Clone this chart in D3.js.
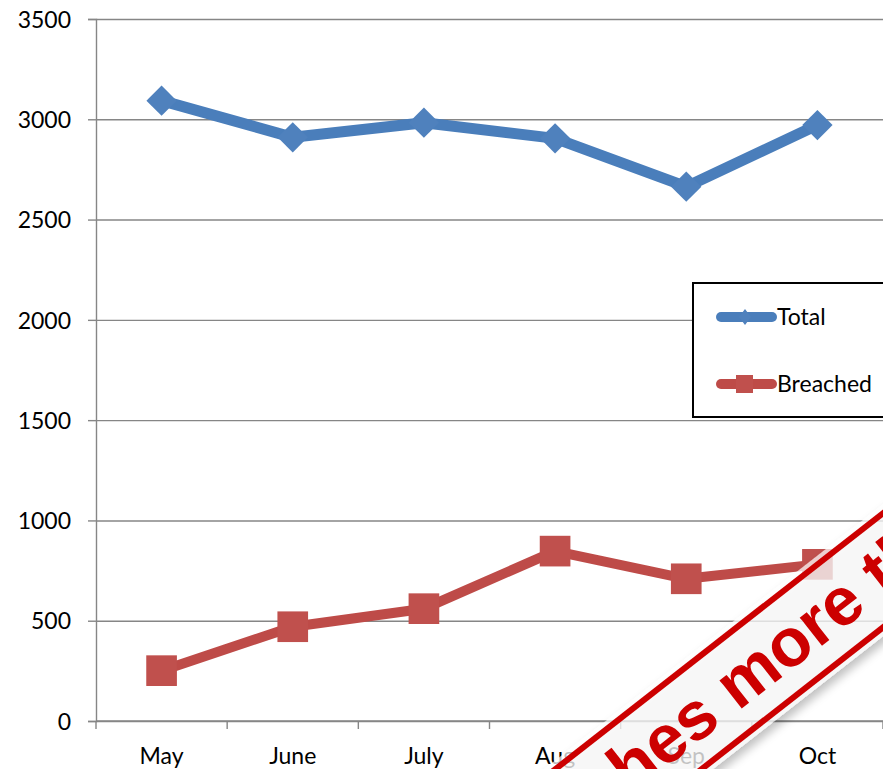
<!DOCTYPE html>
<html>
<head>
<meta charset="utf-8">
<script src="https://cdn.jsdelivr.net/npm/d3@7/dist/d3.min.js"></script>
<style>
  html, body { margin: 0; padding: 0; background: #ffffff; }
  svg { display: block; }
  text { font-family: Lato, "Open Sans", sans-serif; }
</style>
</head>
<body>
<svg id="chart" width="883" height="769"></svg>
<script>
// Monthly counts
const months = ["May", "June", "July", "Aug", "Sep", "Oct"];
const totalValues = [3093, 2910, 2983, 2905, 2664, 2971];
const breachedValues = [251, 470, 560, 847, 709, 781];
const yTicks = [0, 500, 1000, 1500, 2000, 2500, 3000, 3500];
const seriesNames = ["Total", "Breached"];
const stampText = "Breaches more than tripled";

const W = 883, H = 769;
const margin = { left: 96, right: 0, top: 19, bottom: 48 };
const plotW = W - margin.left - margin.right;
const plotH = H - margin.top - margin.bottom;

const svg = d3.select("#chart");
const defs = svg.append("defs");

const x = d3.scaleBand().domain(months).range([margin.left, margin.left + plotW]);
const y = d3.scaleLinear().domain([0, 3500]).range([margin.top + plotH, margin.top]);

const gridColor = "#868686";
const blue = "#4a7ebb", blueMark = "#4f81bd";
const red = "#be4b48", redMark = "#c0504d";

// Horizontal gridlines
const gGrid = svg.append("g")
  .attr("transform", `translate(${margin.left},0)`)
  .call(d3.axisLeft(y).tickValues(yTicks).tickSize(-plotW).tickFormat(""));
gGrid.select(".domain").remove();
gGrid.selectAll(".tick line").attr("stroke", gridColor).attr("stroke-width", 1.4);

// Y axis with outward ticks and labels
const gY = svg.append("g")
  .attr("transform", `translate(${margin.left},0)`)
  .call(d3.axisLeft(y).tickValues(yTicks).tickSize(8).tickPadding(17).tickFormat(d3.format("d")));
gY.select(".domain").attr("stroke", gridColor).attr("stroke-width", 1.4);
gY.selectAll(".tick line").attr("stroke", gridColor).attr("stroke-width", 1.4);
gY.selectAll(".tick text")
  .attr("fill", "#000").style("font-size", "23px").attr("dy", "0.36em");

// X axis: baseline, tick marks at category boundaries, centred labels
const gX = svg.append("g").attr("class", "x-axis");
const [x0, x1] = x.range();
gX.append("line")
  .attr("x1", x0).attr("x2", x1).attr("y1", y(0)).attr("y2", y(0))
  .attr("stroke", gridColor).attr("stroke-width", 1.4);
const boundaries = months.map(m => x(m)).concat([x1]);
gX.selectAll("line.tick").data(boundaries).enter().append("line")
  .attr("class", "tick")
  .attr("x1", d => d).attr("x2", d => d)
  .attr("y1", y(0)).attr("y2", y(0) + 8)
  .attr("stroke", gridColor).attr("stroke-width", 1.4);
gX.selectAll("text").data(months).enter().append("text")
  .attr("x", d => x(d) + x.bandwidth() / 2)
  .attr("y", y(0) + 43)
  .attr("text-anchor", "middle")
  .attr("fill", "#000").style("font-size", "23px")
  .text(d => d);

const cx = m => x(m) + x.bandwidth() / 2;
const line = d3.line().x(d => cx(d.m)).y(d => y(d.v));

const totalData = months.map((m, i) => ({ m, v: totalValues[i] }));
const breachedData = months.map((m, i) => ({ m, v: breachedValues[i] }));

// Total series: thick line with diamond markers
svg.append("path").datum(totalData)
  .attr("d", line).attr("fill", "none")
  .attr("stroke", blue).attr("stroke-width", 11).attr("stroke-linejoin", "round");
svg.selectAll("path.diamond").data(totalData).enter().append("path")
  .attr("class", "diamond")
  .attr("d", d3.symbol().type(d3.symbolSquare).size(460))
  .attr("transform", d => `translate(${cx(d.m)},${y(d.v)}) rotate(45)`)
  .attr("fill", blueMark);

// Breached series: thick line with square markers
svg.append("path").datum(breachedData)
  .attr("d", line).attr("fill", "none")
  .attr("stroke", red).attr("stroke-width", 10).attr("stroke-linejoin", "round");
svg.selectAll("path.square").data(breachedData).enter().append("path")
  .attr("class", "square")
  .attr("d", d3.symbol().type(d3.symbolSquare).size(940))
  .attr("transform", d => `translate(${cx(d.m)},${y(d.v)})`)
  .attr("fill", redMark);

// Legend
const legend = svg.append("g").attr("transform", "translate(693,283)");
legend.append("rect")
  .attr("x", 0).attr("y", 0).attr("width", 220).attr("height", 134)
  .attr("fill", "#fff").attr("stroke", "#000").attr("stroke-width", 2);
const legendItems = [
  { name: seriesNames[0], color: blue, mark: blueMark, sym: "diamond", yy: 34 },
  { name: seriesNames[1], color: red, mark: redMark, sym: "square", yy: 101 }
];
legendItems.forEach(it => {
  const g = legend.append("g").attr("transform", `translate(0,${it.yy})`);
  g.append("line").attr("x1", 28).attr("x2", 79).attr("y1", 0).attr("y2", 0)
    .attr("stroke", it.color).attr("stroke-width", 10).attr("stroke-linecap", "round");
  if (it.sym === "diamond") {
    g.append("path").attr("d", "M52,-8 L58,0 L52,8 L46,0 Z").attr("fill", it.mark);
  } else {
    g.append("rect").attr("x", 43).attr("y", -9).attr("width", 17).attr("height", 18).attr("fill", it.mark);
  }
  g.append("text").attr("x", 84).attr("y", 0).attr("dy", "0.36em")
    .attr("fill", "#000").style("font-size", "23px").text(it.name);
});

// Diagonal stamp banner
const shadow = defs.append("filter").attr("id", "stampShadow")
  .attr("x", "-20%").attr("y", "-50%").attr("width", "140%").attr("height", "200%");
shadow.append("feGaussianBlur").attr("in", "SourceAlpha").attr("stdDeviation", 5).attr("result", "b");
shadow.append("feOffset").attr("in", "b").attr("dx", 4).attr("dy", 6).attr("result", "o");
shadow.append("feComponentTransfer").attr("in", "o").attr("result", "s")
  .append("feFuncA").attr("type", "linear").attr("slope", 0.35);
const merge = shadow.append("feMerge");
merge.append("feMergeNode").attr("in", "s");
merge.append("feMergeNode").attr("in", "SourceGraphic");

const stamp = svg.append("g").attr("transform", "translate(845,600) rotate(-38)");
stamp.append("rect")
  .attr("x", -700).attr("y", -52).attr("width", 1100).attr("height", 104)
  .attr("fill", "#ffffff").attr("fill-opacity", 0.72)
  .attr("filter", "url(#stampShadow)");
[-45, 45].forEach(off => {
  stamp.append("line")
    .attr("x1", -700).attr("x2", 400).attr("y1", off).attr("y2", off)
    .attr("stroke", "#cc0000").attr("stroke-width", 6);
});
const stampFont = "68px";
const measure = stamp.append("text")
  .style("font-family", "'Liberation Sans', Arial, sans-serif")
  .style("font-weight", "bold").style("font-size", stampFont)
  .text("Breaches ");
const prefixW = measure.node().getComputedTextLength();
measure.remove();
stamp.append("text")
  .attr("x", -172 - prefixW).attr("y", 22)
  .style("font-family", "'Liberation Sans', Arial, sans-serif")
  .style("font-weight", "bold").style("font-size", stampFont)
  .attr("fill", "#cc0000")
  .text(stampText);
</script>
</body>
</html>
